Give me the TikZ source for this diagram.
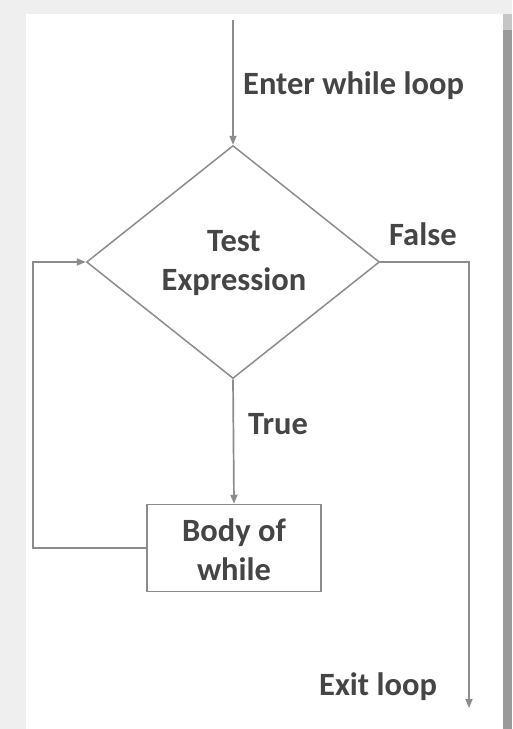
\documentclass[tikz,border=0pt]{standalone}
\usepackage{fontspec}
\setmainfont{Carlito}
\usetikzlibrary{shapes.geometric,arrows.meta}
\definecolor{linegray}{HTML}{8C8C8C}
\definecolor{textgray}{HTML}{454545}
\definecolor{outergray}{HTML}{EFEFEF}
\definecolor{edgegray}{HTML}{9A9A9A}
\begin{document}
\begin{tikzpicture}[x=1pt,y=-1pt,
  lbl/.style={font=\fontsize{32.5}{39}\selectfont\bfseries, text=textgray, inner sep=0pt},
  flow/.style={draw=linegray, line width=1.7pt, -{Triangle[length=9pt,width=7pt]}},
  decision/.style={diamond, draw=linegray, line width=1.5pt, minimum width=293pt, minimum height=233pt, inner sep=0pt, aspect=1.26},
  process/.style={rectangle, draw=linegray, line width=1.5pt, minimum width=174pt, minimum height=87pt, inner sep=0pt}]
\useasboundingbox (0,0) rectangle (512,729);
\fill[outergray] (0,0) rectangle (512,729);
\fill[white] (26,14) rectangle (503,729);
\fill[edgegray] (503,30) rectangle (512,729);
\fill[gray!45] (503,14) rectangle (512,30);

\coordinate (start) at (233,20);
\node[decision] (test) at (233,262) {};
\node[lbl, align=center] (testtxt) at (234,263) {Test\\Expression};
\node[process] (body) at (234,548) {};
\node[lbl, align=center] (bodytxt) at (234,550) {Body of\\while};
\coordinate (exitcorner) at (469,262);
\coordinate (exitend) at (469,708);
\coordinate (loopA) at (33,548);
\coordinate (loopB) at (33,262);

\node[lbl, anchor=west] (enter) at (243,86) {Enter while loop};
\node[lbl, anchor=west] (false) at (389,234) {False};
\node[lbl, anchor=west] (true) at (248,424) {True};
\node[lbl, anchor=west] (exit) at (319,687) {Exit loop};

\draw[flow] (start) -- (test.north);
\draw[flow] (test.south) -- (body.north);
\draw[flow] (test.east) -- (exitcorner) -- (exitend);
\draw[flow] (body.west) -- (loopA) -- (loopB) -- (test.west);
\end{tikzpicture}
\end{document}
